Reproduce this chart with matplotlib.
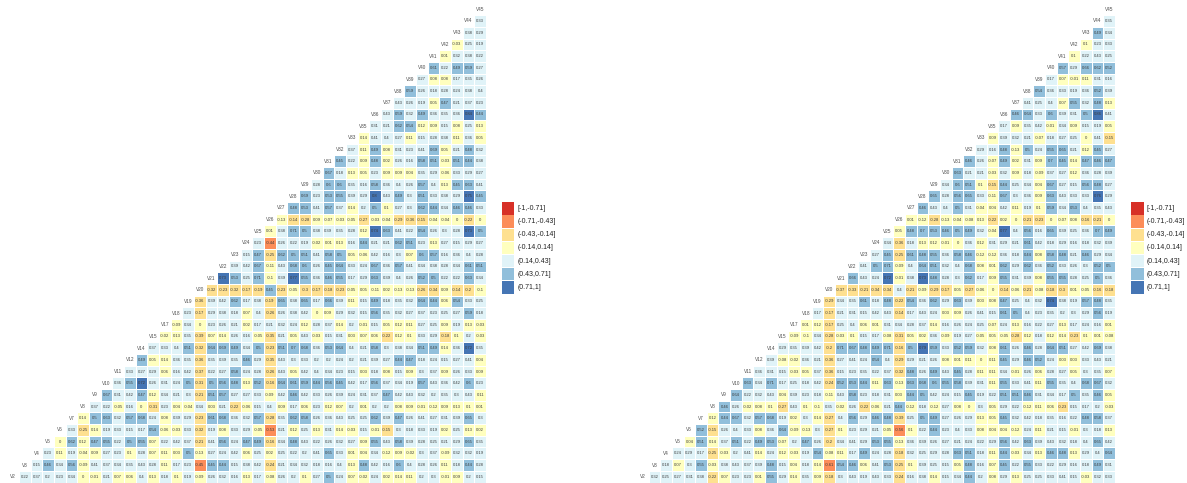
import numpy as np
import matplotlib
matplotlib.use("Agg")
import matplotlib.pyplot as plt
from matplotlib.colors import ListedColormap
from matplotlib.patches import Rectangle

plt.rcParams['font.family'] = ['Liberation Sans', 'DejaVu Sans']

variables = ["V2","V3","V4","V5","V6","V7","V8","V9","V10","V11","V12","V14","V15","V17","V18","V19","V20",
             "V21","V22","V23","V24","V25","V26","V27","V28","V29","V30","V31","V32","V33","V35","V36","V37",
             "V38","V39","V40","V41","V42","V43","V44","V45"]
bin_edges = [-1, -0.71, -0.43, -0.14, 0.14, 0.43, 0.71, 1]
bin_labels = ["[-1,-0.71]", "(-0.71,-0.43]", "(-0.43,-0.14]", "(-0.14,0.14]", "(0.14,0.43]", "(0.43,0.71]", "(0.71,1]"]
bin_colors = ["#d73027", "#fc8d59", "#fee090", "#ffffbf", "#e0f3f8", "#91bfdb", "#4575b4"]

# Left matrix, one list per row, running left to right
left_V2 = [0.22,0.37,0.2,0.23,0.34,0,-0.01,0.21,0.07,0.06,0.4,0.13,0.18,0.1,0.19,-0.09,0.26,0.32,0.16,0.13,0.17,-0.08,0.26,0.2,0.1,0.27,0.5,0.24,0.07,-0.02,0.24,0.02,0.14,0.11,0.2,0.3,-0.01,0.09,0.2,0.15]
left_V3 = [0.15,0.46,0.34,0.56,-0.09,0.41,0.37,0.34,0.35,0.43,0.28,0.11,0.17,0.23,-0.45,0.45,0.44,0.15,0.38,0.42,-0.24,0.21,0.34,0.32,0.18,0.16,0.4,0.13,0.48,0.42,0.16,0.6,0.4,0.28,0.26,0.11,0.18,0.44,0.28]
left_V4 = [0.23,0.11,0.19,-0.04,0.09,0.27,0.23,0.1,0.28,0.07,0.11,0.03,0.5,-0.13,0.27,0.24,0.42,0.06,0.25,0.02,0.25,0.22,0.2,0.41,0.65,0.33,0.01,0.04,0.34,-0.12,0.09,-0.02,0.3,0.37,-0.09,0.32,0.32,0.19]
left_V5 = [0,0.62,0.12,0.47,0.55,0.22,0.5,0.55,0.07,0.22,0.42,0.37,-0.21,0.41,0.56,0.24,0.47,0.49,-0.16,0.34,0.48,0.43,0.22,0.26,0.32,0.27,0.09,0.55,0.43,0.58,0.39,0.28,0.25,0.21,0.29,0.65,0.35]
left_V6 = [0.33,-0.25,0.14,0.19,0.33,0.15,0.17,0.54,-0.06,-0.03,0.33,-0.32,0.19,0.08,0.33,0.29,-0.05,-0.53,0.21,0.12,0.25,0.13,0.31,0.14,-0.03,0.15,-0.01,-0.15,0.3,0.18,0.33,0.19,0.02,0.25,0.13,0.02]
left_V7 = [0.14,0.5,0.63,0.32,0.57,0.68,0.24,0.08,0.39,0.29,-0.23,0.61,0.68,0.36,0.32,0.57,-0.28,0.35,0.62,0.58,0.26,0.36,0.43,0.25,0.25,0.62,0.39,0.47,0.26,0.41,0.27,0.31,0.39,0.65,0.3]
left_V8 = [0.37,0.22,-0.05,0.16,0,-0.31,0.23,0.04,-0.04,0.34,0.03,0.21,-0.22,-0.06,0.15,0.4,0.09,0.17,0.06,0.23,0.12,0.07,0.2,0.01,0.2,0.2,0.08,0.09,-0.01,-0.12,0.09,0.13,0.1,0.01]
left_V9 = [0.67,0.31,0.42,0.47,0.12,0.34,0.21,0.3,-0.21,0.51,0.57,0.27,0.27,0.33,-0.09,0.42,0.46,0.42,0.33,0.26,0.39,0.24,0.31,0.37,0.47,0.42,0.43,0.32,0.2,0.35,0.3,0.43,0.11]
left_V10 = [0.36,0.55,0.72,0.26,0.31,0.24,0.5,-0.31,0.5,0.56,0.48,0.13,0.52,-0.16,0.64,0.61,0.59,0.44,0.56,0.45,0.42,0.17,0.56,0.37,0.34,0.19,0.57,0.43,0.36,0.42,0.6,0.23]
left_V11 = [0.33,0.27,0.29,0.06,0.16,0.42,-0.37,0.22,0.27,0.58,0.24,0.28,-0.26,0.43,0.05,0.42,0.4,0.34,0.23,0.15,0.03,0.18,0.08,0.15,0.09,0.3,0.37,0.09,0.26,0.33,0.09]
left_V12 = [0.49,0.05,0.14,0.36,0.35,-0.36,0.35,0.39,0.35,0.46,0.29,-0.35,0.43,0.3,0.33,0.2,0.2,0.24,0.2,0.21,0.39,0.27,0.44,0.47,0.18,0.24,0.15,0.27,0.41,0.04]
left_V14 = [0.37,0.33,0.4,0.51,-0.32,0.64,0.69,0.49,0.34,0.5,-0.23,0.51,0.7,0.68,0.36,0.53,0.64,0.4,0.21,0.58,0.3,0.38,0.34,0.51,0.49,0.14,0.36,0.72,0.35]
left_V15 = [-0.02,0.13,0.35,-0.39,0.07,0.14,0.26,0.16,-0.05,-0.35,0.21,0.05,0.43,-0.03,0.15,0.31,0.03,0.07,0.06,-0.22,0.12,0.1,0.33,0.29,-0.18,0.1,0.2,-0.03]
left_V17 = [-0.09,0.34,0,0.23,0.26,0.21,0.02,0.17,0.21,0.32,0.24,0.12,0.28,0.37,0.14,0.2,-0.01,0.15,0.05,0.12,0.11,0.27,0.25,0.09,0.19,0.13,-0.03]
left_V18 = [0.23,-0.17,0.29,0.38,0.18,0.07,0.4,-0.26,0.26,0.38,0.42,0,0.09,0.29,0.32,0.15,0.56,0.35,0.32,0.27,0.37,0.23,0.25,0.27,0.59,0.18]
left_V19 = [-0.36,0.39,0.42,0.62,0.17,0.38,-0.19,0.65,0.38,0.65,0.17,0.66,0.39,0.11,0.15,0.49,0.18,0.35,0.32,0.64,0.44,0.06,0.54,0.33,0.25]
left_V20 = [-0.32,-0.23,-0.32,-0.17,-0.19,0.45,-0.23,-0.05,-0.3,-0.17,-0.18,-0.23,-0.05,0.05,-0.11,0.02,-0.13,-0.13,-0.26,-0.34,0.09,-0.14,-0.2,-0.1]
left_V21 = [0.73,0.53,0.25,0.71,-0.1,0.39,0.77,0.55,0.36,0.46,0.55,0.17,0.29,0.63,0.39,0.4,0.26,0.52,0.5,0.22,0.22,0.63,0.34]
left_V22 = [0.39,0.42,0.67,-0.11,0.43,0.68,0.6,0.26,0.45,0.64,0.33,0.24,0.67,0.36,0.57,0.41,0.34,0.38,0.28,0.34,0.61,0.51]
left_V23 = [0.15,0.47,-0.25,0.62,0.5,0.51,0.41,0.58,0.5,0.05,-0.06,0.42,0.16,0.3,0.07,0.6,0.57,0.16,0.36,0.4,0.28]
left_V24 = [0.23,-0.44,0.26,0.22,0.19,-0.02,0.01,0.13,0.16,0.44,0.21,0.21,0.62,0.51,0.23,0.13,0.27,0.15,0.29,0.27]
left_V25 = [0.01,0.38,0.71,0.5,0.38,0.39,0.35,0.28,0.12,0.74,0.63,0.41,0.22,0.54,0.26,0.3,0.28,0.73,0.5]
left_V26 = [-0.13,-0.14,-0.28,0.09,-0.07,-0.03,-0.05,-0.27,-0.03,-0.04,-0.29,-0.36,-0.15,-0.04,-0.04,0,-0.22,0]
left_V27 = [0.48,0.53,0.41,0.57,0.37,0.14,0.2,0.5,0.1,0.27,0.3,0.62,0.44,0.34,0.46,0.46,0.33]
left_V28 = [0.69,0.23,0.53,0.55,0.39,0.29,0.8,0.43,0.49,0.3,0.51,0.33,0.38,0.29,0.75,0.45]
left_V29 = [0.28,0.6,0.6,0.35,0.16,0.58,0.36,0.4,0.26,0.57,0.4,0.13,0.45,0.63,0.41]
left_V30 = [0.67,0.18,0.13,0.05,0.23,0.09,0.09,0.04,0.35,0.29,-0.06,0.33,0.29,0.27]
left_V31 = [0.45,0.22,0.09,0.48,0.02,0.26,0.16,0.58,0.51,-0.03,0.51,0.44,0.38]
left_V32 = [0.37,0.11,0.49,0.08,0.31,0.23,0.41,0.69,0.05,0.21,0.48,0.32]
left_V33 = [0.14,0.41,0.4,0.27,0.11,0.15,0.28,0.38,0.11,0.36,0.05]
left_V35 = [0.31,0.21,0.62,0.54,0.12,0.09,0.15,0.08,0.25,0.13]
left_V36 = [0.43,0.59,0.32,0.49,0.36,0.35,0.36,0.84,0.44]
left_V37 = [0.43,0.26,0.19,0.05,0.47,0.21,0.37,0.23]
left_V38 = [0.59,0.26,0.18,0.28,0.24,0.38,0.4]
left_V39 = [0.27,0.08,0.08,0.17,0.35,0.26]
left_V40 = [0.61,0.22,0.49,0.59,0.27]
left_V41 = [0.01,0.32,0.38,0.22]
left_V42 = [-0.03,0.25,0.19]
left_V43 = [0.38,0.29]
left_V44 = [0.33]

# Right matrix, one list per row, running left to right
right_V2 = [0.32,0.25,0.27,0.31,0.38,-0.22,0.07,0.23,0.23,0.01,0.55,0.29,0.14,0.35,0.09,-0.18,0.3,0.43,0.19,0.43,0.33,-0.24,0.16,0.38,0.14,0.15,0.34,0.44,0.2,0.08,0.29,0.13,0.25,0.25,0.33,0.41,0.15,-0.03,0.32,0.33]
right_V3 = [0.18,0.07,0.3,0.55,-0.03,0.38,0.43,0.37,0.39,0.48,0.15,0.04,0.18,0.14,-0.61,0.54,0.46,0.06,0.41,0.53,-0.25,0.1,0.39,0.25,0.15,0.05,0.48,0.16,0.07,0.45,0.22,0.55,0.33,0.22,0.29,0.16,0.18,0.49,0.31]
right_V4 = [0.24,0.29,0.17,-0.25,-0.03,0.2,0.41,0.14,0.24,0.12,-0.03,0.19,0.54,-0.08,0.11,0.17,0.49,0.24,0.28,-0.18,0.32,0.25,0.29,0.28,0.63,0.51,0.18,0.11,0.44,-0.03,0.34,0.13,0.46,0.48,0.13,0.29,0.4,0.64]
right_V5 = [0.04,0.51,0.14,0.37,0.51,0.22,0.49,0.53,-0.07,0.2,0.47,0.26,-0.2,0.34,0.41,0.29,0.53,0.55,-0.13,0.36,0.39,0.26,0.27,0.21,0.24,0.22,0.29,0.56,0.42,0.63,0.39,0.43,0.32,0.18,0.4,0.65,0.42]
right_V6 = [0.52,-0.15,0.26,0.4,0.33,0.08,0.36,0.64,-0.09,-0.13,0.3,-0.27,0.1,0.23,0.29,0.21,-0.05,-0.56,0.1,0.22,0.44,0.23,0.4,0.33,0.08,0.04,0.04,-0.12,0.24,0.11,0.21,0.15,-0.01,0.3,0.18,0.13]
right_V7 = [0.12,0.44,0.67,0.32,0.57,0.68,0.19,0.02,0.3,0.14,-0.27,0.4,0.56,0.29,0.46,0.48,-0.39,0.25,0.5,0.49,0.27,0.26,0.29,0.13,0.05,0.45,0.32,0.42,0.18,0.35,0.16,0.22,0.48,0.58,0.37]
right_V8 = [0.46,0.26,-0.02,0.08,0.1,-0.27,0.43,0.1,-0.1,0.35,-0.02,0.26,-0.22,-0.06,0.21,0.44,-0.12,0.18,-0.12,0.27,0.08,0,0.3,0.05,0.29,0.22,-0.12,0.11,0.06,-0.23,0.15,0.17,0.2,-0.03]
right_V9 = [0.64,0.22,0.32,0.43,0.04,0.39,0.23,0.18,-0.11,0.43,0.58,0.23,0.18,0.31,0.03,0.44,0.5,0.42,0.24,0.15,0.45,0.19,0.22,0.51,0.51,0.46,0.31,0.34,0.17,0.5,0.35,0.46,0.05]
right_V10 = [0.63,0.34,0.71,0.17,0.25,0.18,0.42,-0.24,0.52,0.53,0.44,0.11,0.63,-0.13,0.63,0.68,0.6,0.55,0.58,0.39,0.31,0.11,0.55,0.33,0.41,0.11,0.55,0.35,0.4,0.68,0.67,0.32]
right_V11 = [0.36,0.31,0.15,-0.03,0.05,0.37,-0.36,0.15,0.23,0.35,0.22,0.37,-0.32,0.48,0.26,0.49,0.43,0.45,0.28,0.11,0.11,0.34,-0.01,0.26,0.06,0.28,0.27,0.05,0.3,0.35,0.07]
right_V12 = [0.39,-0.08,-0.02,0.36,0.21,-0.36,0.27,0.41,0.24,0.54,0.4,-0.29,0.29,0.21,0.26,0.08,0.01,0.11,0,0.11,0.45,0.29,0.46,0.52,0.24,0.03,0.03,0.33,0.43,0.21]
right_V14 = [0.29,0.35,0.39,0.42,-0.2,0.71,0.67,0.48,0.49,0.71,-0.16,0.5,0.79,0.59,0.33,0.52,0.59,0.32,0.08,0.61,0.26,0.46,0.28,0.64,0.51,0.27,0.42,0.69,0.38]
right_V15 = [-0.09,-0.1,0.34,-0.28,-0.03,0.1,0.15,0.17,-0.08,-0.31,0.05,0.02,0.36,-0.09,0.19,0.27,-0.05,0.05,-0.05,-0.28,0.12,0.18,0.12,0.14,-0.23,0.1,0.01,-0.08]
right_V17 = [0.01,0.12,-0.17,0.25,0.4,0.06,0.01,0.31,0.34,0.28,0.37,0.14,0.16,0.26,0.24,0.25,-0.07,0.24,0.13,0.16,0.22,0.27,0.13,0.17,0.24,0.16,0.01]
right_V18 = [0.17,-0.17,0.21,0.31,0.15,0.42,0.43,-0.14,0.17,0.43,0.24,0.03,0.09,0.26,0.41,0.15,0.61,0.5,0.4,0.23,0.35,0.2,0.3,0.29,0.56,0.19]
right_V19 = [-0.29,0.34,0.35,0.61,0.18,0.48,-0.22,0.54,0.36,0.62,0.29,0.63,0.39,0.03,0.08,0.47,0.25,0.4,0.32,0.74,0.38,0.19,0.57,0.48,0.35]
right_V20 = [-0.37,-0.33,-0.21,-0.34,-0.34,0.4,-0.21,-0.09,-0.29,-0.17,0.05,-0.27,-0.06,0,-0.14,-0.06,-0.21,-0.08,-0.18,-0.3,0.01,-0.05,-0.16,-0.18]
right_V21 = [0.66,0.43,0.24,0.72,-0.01,0.38,0.73,0.48,0.28,0.3,0.62,0.17,0.09,0.55,0.31,0.39,0.08,0.55,0.55,0.28,0.25,0.5,0.36]
right_V22 = [0.41,0.5,0.71,-0.09,0.4,0.64,0.51,0.32,0.4,0.68,0.08,0.01,0.62,0.29,0.62,0.36,0.52,0.33,0.26,0.3,0.52,0.5]
right_V23 = [0.27,0.45,-0.25,0.61,0.48,0.55,0.36,0.58,0.46,-0.12,-0.12,0.36,0.18,0.44,0.08,0.58,0.48,0.21,0.46,0.29,0.34]
right_V24 = [0.34,-0.36,0.18,0.13,0.12,-0.01,0,0.36,0.12,0.31,0.29,0.21,0.61,0.42,0.18,0.29,0.16,0.18,0.32,0.39]
right_V25 = [0.05,0.48,0.7,0.53,0.46,0.5,0.49,0.32,-0.04,0.77,0.4,0.56,0.16,0.65,0.39,0.25,0.36,0.7,0.49]
right_V26 = [0.01,-0.12,-0.28,-0.13,-0.04,-0.08,0.13,-0.22,0.02,0,-0.21,-0.23,0,-0.07,0.08,-0.16,-0.21,0]
right_V27 = [0.46,0.43,0.4,0.5,0.31,-0.04,0.04,0.42,0.11,0.19,0.1,0.59,0.34,0.53,0.4,0.35,0.43]
right_V28 = [0.65,0.28,0.56,0.65,0.33,-0.11,0.67,0.3,0.36,0.09,0.63,0.43,0.33,0.33,0.76,0.29]
right_V29 = [0.34,0.6,0.51,0.1,-0.15,0.44,0.25,0.34,0.04,0.67,0.27,0.15,0.56,0.48,0.27]
right_V30 = [0.63,0.21,0.21,-0.03,0.32,0.09,0.18,-0.09,0.37,0.27,0.12,0.36,0.28,0.39]
right_V31 = [0.46,0.26,-0.07,0.49,0.02,0.31,0.09,0.7,0.45,0.14,0.47,0.46,0.47]
right_V32 = [0.29,0.16,0.48,-0.13,0.5,0.24,0.55,0.65,0.21,0.12,0.45,0.27]
right_V33 = [0.09,0.39,0.32,0.21,-0.07,0.18,0.27,0.25,0,0.41,-0.15]
right_V35 = [0.17,0.09,0.35,0.42,-0.01,0.34,0.09,0.15,0.19,0.05]
right_V36 = [0.46,0.64,0.33,0.6,0.39,0.31,0.5,0.86,0.41]
right_V37 = [0.41,0.25,0.4,0.07,0.55,0.32,0.48,0.13]
right_V38 = [0.54,0.36,0.33,0.19,0.36,0.52,0.39]
right_V39 = [0.17,0.07,-0.01,0.11,0.31,0.16]
right_V40 = [0.57,0.29,0.66,0.62,0.52]
right_V41 = [0.1,0.22,0.43,0.25]
right_V42 = [0.1,0.23,0.33]
right_V43 = [0.49,0.34]
right_V44 = [0.35]

left_rows = [left_V2,left_V3,left_V4,left_V5,left_V6,left_V7,left_V8,left_V9,left_V10,left_V11,left_V12,left_V14,left_V15,left_V17,left_V18,left_V19,left_V20,left_V21,left_V22,left_V23,left_V24,left_V25,left_V26,left_V27,left_V28,left_V29,left_V30,left_V31,left_V32,left_V33,left_V35,left_V36,left_V37,left_V38,left_V39,left_V40,left_V41,left_V42,left_V43,left_V44,[]]
right_rows = [right_V2,right_V3,right_V4,right_V5,right_V6,right_V7,right_V8,right_V9,right_V10,right_V11,right_V12,right_V14,right_V15,right_V17,right_V18,right_V19,right_V20,right_V21,right_V22,right_V23,right_V24,right_V25,right_V26,right_V27,right_V28,right_V29,right_V30,right_V31,right_V32,right_V33,right_V35,right_V36,right_V37,right_V38,right_V39,right_V40,right_V41,right_V42,right_V43,right_V44,[]]

W, H = 1187, 483
fig = plt.figure(figsize=(W/100, H/100), dpi=100, facecolor="white")
cmap = ListedColormap(bin_colors)
n = len(variables)


def panel(rows, x0, dx, y0=476.7, dy=11.685):
    """x0,y0: pixel centre of the bottom-left label, dx,dy: pixel step."""
    left = x0 - dx/2
    bottom = y0 + dy/2
    ax = fig.add_axes([left/W, (H-bottom)/H, n*dx/W, n*dy/H])
    ax.set_xlim(-0.5, n-0.5)
    ax.set_ylim(-0.5, n-0.5)
    ax.axis("off")
    grid = np.full((n, n), np.nan)
    for i, row in enumerate(rows):
        assert len(row) == n-1-i, (i, len(row))
        grid[i, i+1:] = row
    # right-closed bins, as the legend says
    cats = np.digitize(np.nan_to_num(grid), bin_edges, right=True) - 1
    cats = np.ma.masked_where(np.isnan(grid), np.clip(cats, 0, 6))
    ax.pcolormesh(np.arange(n+1)-0.5, np.arange(n+1)-0.5, cats, cmap=cmap, vmin=-0.5, vmax=6.5,
                  edgecolors="white", linewidth=0.7)
    for i, row in enumerate(rows):
        ax.text(i, i, variables[i], ha="center", va="center", fontsize=3.4, color="#4d4d4d")
        for k, v in enumerate(row):
            ax.text(i+1+k, i, f"{v:g}", ha="center", va="center", fontsize=3.0, color="#3a3a3a")


def legend(x_box, x_text):
    ax = fig.add_axes([0, 0, 1, 1], facecolor="none")
    ax.set_xlim(0, W)
    ax.set_ylim(H, 0)
    ax.axis("off")
    top = 201.7
    h = 13.2
    for k, (lab, col) in enumerate(zip(bin_labels, bin_colors)):
        ax.add_patch(Rectangle((x_box, top+k*h+0.4), 12.6, h-0.8, facecolor=col, edgecolor="none"))
        ax.text(x_text, top+k*h+h/2, lab, ha="left", va="center", fontsize=5.0, color="#222222")


panel(left_rows, 13.0, 11.68)
panel(right_rows, 642.7, 11.66)
legend(501.6, 517.7)
legend(1131.0, 1146.7)
fig.savefig("out.png", dpi=100, facecolor="white")
